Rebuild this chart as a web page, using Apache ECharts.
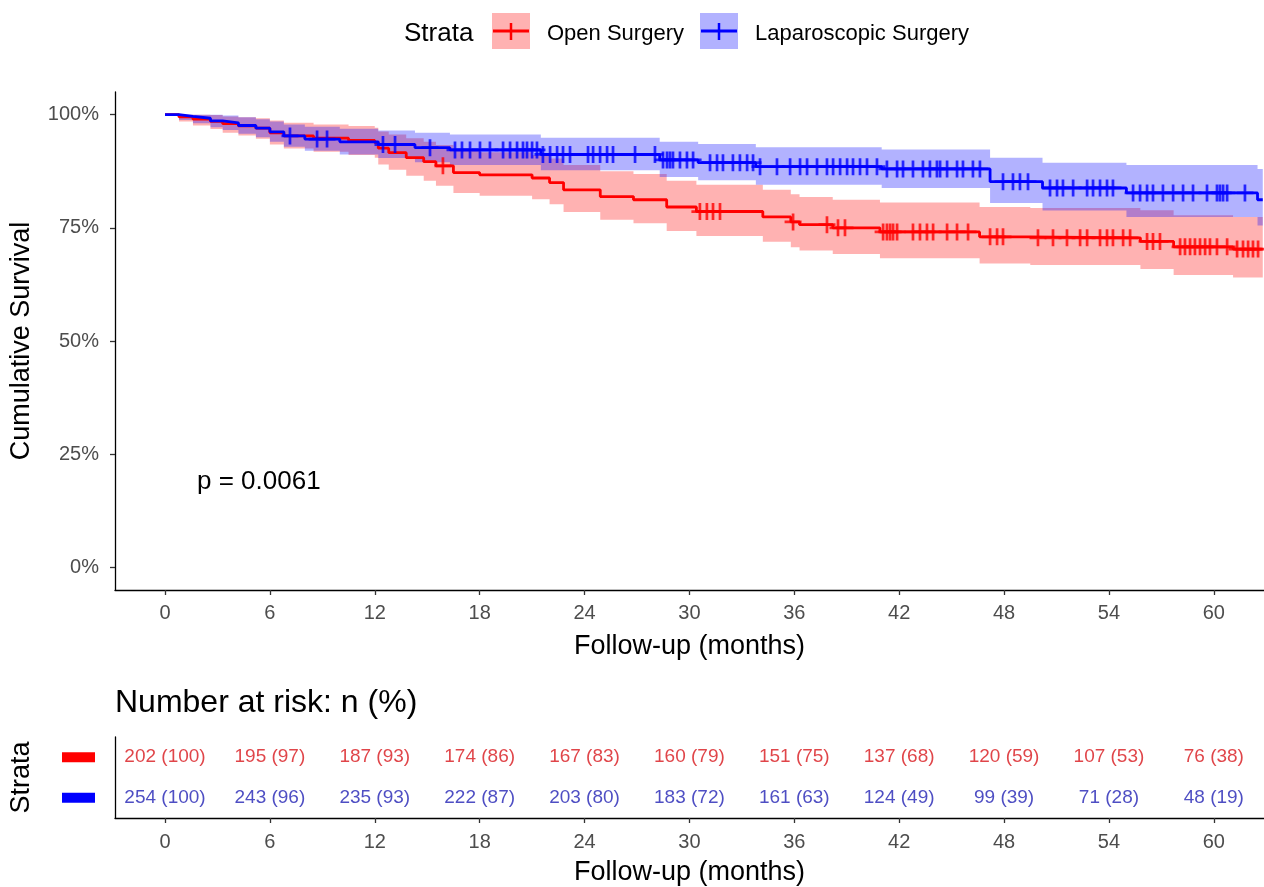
<!DOCTYPE html>
<html><head><meta charset="utf-8">
<script src="https://cdn.jsdelivr.net/npm/echarts@6/dist/echarts.min.js"></script>
<style>html,body{margin:0;padding:0;background:#fff}#c{width:1264px;height:887px}</style>
</head><body><div id="c"></div>
<script>
// ---------- data ----------
const xTicks = [0, 6, 12, 18, 24, 30, 36, 42, 48, 54, 60];
const yTicks = [0, 25, 50, 75, 100];
const groups = ['Open Surgery', 'Laparoscopic Surgery'];

const openTime  = [0, 0.8, 1.6, 2.6, 3.3, 4.2, 5.2, 6.0, 6.8, 8.5, 10.5, 12.0, 12.2, 12.8, 13.8, 14.8, 15.5, 16.5, 18.0, 21.0, 22.0, 22.8, 24.9, 26.8, 28.7, 30.4, 34.2, 35.8, 36.3, 38.2, 40.9, 46.6, 49.5, 55.8, 57.7, 61.1, 62.8];
const openSurv  = [100, 99.5, 99.0, 98.5, 98.0, 97.5, 97.0, 96.0, 95.3, 94.8, 94.3, 93.8, 92.6, 91.6, 90.5, 89.6, 88.7, 87.2, 86.7, 86.0, 85.0, 83.4, 81.9, 81.2, 79.6, 78.6, 77.4, 76.3, 75.7, 75.0, 74.1, 73.0, 72.8, 72.0, 70.8, 70.3, 70.3];
const openLower = [100, 98.5, 97.6, 96.8, 96.0, 95.4, 94.7, 93.4, 92.5, 91.8, 91.1, 90.5, 89.0, 87.8, 86.5, 85.4, 84.3, 82.7, 82.1, 81.3, 80.2, 78.5, 76.8, 76.0, 74.3, 73.2, 71.9, 70.7, 70.0, 69.2, 68.3, 67.1, 66.8, 65.9, 64.6, 64.0, 64.0];
const openUpper = [100, 100, 100, 99.9, 99.6, 99.4, 99.2, 98.7, 98.2, 97.8, 97.5, 97.1, 96.3, 95.6, 94.8, 94.0, 93.3, 92.1, 91.7, 91.1, 90.3, 88.9, 87.5, 86.9, 85.4, 84.5, 83.4, 82.4, 81.8, 81.2, 80.6, 79.6, 79.4, 78.9, 77.8, 77.4, 77.4];

const lapTime  = [0, 0.8, 1.6, 2.6, 3.3, 4.2, 5.2, 6.0, 6.8, 8.0, 10.0, 12.2, 14.3, 16.3, 21.5, 28.3, 30.5, 33.8, 41.0, 47.2, 50.2, 55.0, 62.5, 62.8];
const lapSurv  = [100, 99.6, 99.2, 98.6, 98.2, 97.6, 97.0, 96.2, 95.3, 94.6, 94.0, 93.4, 92.7, 92.2, 91.2, 90.0, 89.4, 88.5, 88.0, 85.2, 83.8, 82.7, 81.2, 81.2];
const lapLower = [100, 98.8, 98.1, 97.2, 96.6, 95.8, 95.0, 94.0, 92.9, 92.0, 91.2, 90.4, 89.5, 88.9, 87.7, 86.2, 85.5, 84.5, 83.8, 80.5, 78.8, 77.4, 75.5, 75.5];
const lapUpper = [100, 100, 100, 100, 99.8, 99.4, 99.0, 98.5, 97.8, 97.3, 96.9, 96.5, 96.0, 95.6, 94.9, 94.0, 93.5, 92.8, 92.3, 90.5, 89.4, 88.9, 88.0, 88.0];

const openCensor = [15.9, 30.6, 31.0, 31.35, 31.75, 35.93, 37.87, 38.5, 38.9, 41.08, 41.3, 41.48, 41.65, 41.88, 42.79, 43.19, 43.59, 43.94, 44.74, 45.31, 45.94, 47.2, 47.6, 47.94, 49.94, 50.8, 51.6, 52.35, 52.75, 53.49, 53.89, 54.23, 54.81, 55.21, 56.18, 56.52, 56.92, 58.07, 58.35, 58.64, 58.92, 59.21, 59.5, 59.78, 60.18, 60.76, 61.33, 61.67, 61.96, 62.24, 62.53];
const lapCensor = [7.15, 8.7, 9.27, 12.47, 13.16, 15.16, 16.59, 16.99, 17.45, 18.02, 18.59, 19.34, 19.74, 20.14, 20.48, 20.71, 21.0, 21.28, 21.62, 22.03, 22.43, 22.77, 23.17, 24.2, 24.49, 24.89, 25.29, 25.63, 26.89, 28.03, 28.49, 28.72, 28.89, 29.06, 29.46, 29.86, 30.21, 31.18, 31.58, 31.92, 32.49, 32.89, 33.3, 33.64, 34.04, 35.01, 35.76, 36.33, 36.73, 37.3, 37.87, 38.22, 38.62, 39.02, 39.36, 39.76, 40.16, 40.73, 41.3, 41.88, 42.22, 42.79, 43.36, 43.76, 44.16, 44.34, 44.74, 45.31, 45.65, 46.22, 46.62, 47.94, 48.51, 48.91, 49.37, 50.63, 51.03, 51.37, 51.95, 52.75, 53.09, 53.49, 53.89, 54.23, 55.38, 55.78, 56.18, 56.52, 57.09, 57.67, 58.24, 58.81, 59.61, 60.18, 60.35, 60.53, 60.76, 61.78];

const openN   = [202, 195, 187, 174, 167, 160, 151, 137, 120, 107, 76];
const openPct = [100, 97, 93, 86, 83, 79, 75, 68, 59, 53, 38];
const lapN    = [254, 243, 235, 222, 203, 183, 161, 124, 99, 71, 48];
const lapPct  = [100, 96, 93, 87, 80, 72, 63, 49, 39, 28, 19];

const pValueText = 'p = 0.0061';

// ---------- styles ----------
const FONT = '"Liberation Sans", Arial, sans-serif';
const RED = '#ff0000', BLUE = '#0000ff';
const RED_BAND = 'rgba(255,0,0,0.3)', BLUE_BAND = 'rgba(0,0,255,0.3)';
const X_MIN = -2.86, X_MAX = 62.87;
const PLUS = 'path://M0,8.4H8.4V0H11.6V8.4H20V11.6H11.6V20H8.4V11.6H0Z';

function stepAt(times, vals, t) {
  let v = vals[0];
  for (let i = 0; i < times.length; i++) if (times[i] <= t) v = vals[i];
  return v;
}
function bandSeries(times, lower, upper, color) {
  return {
    type: 'custom', xAxisIndex: 0, yAxisIndex: 0, z: 1, silent: true,
    data: [[times[0], upper[0]]],
    renderItem: function (params, api) {
      const up = [], lo = [];
      for (let i = 0; i < times.length; i++) {
        up.push(api.coord([times[i], upper[i]]));
        lo.push(api.coord([times[i], lower[i]]));
        if (i < times.length - 1) {
          up.push(api.coord([times[i + 1], upper[i]]));
          lo.push(api.coord([times[i + 1], lower[i]]));
        }
      }
      return { type: 'polygon', shape: { points: up.concat(lo.reverse()) }, style: { fill: color } };
    }
  };
}
function lineSeries(name, times, surv, color, z) {
  return {
    name: name, type: 'line', xAxisIndex: 0, yAxisIndex: 0, step: 'end', z: z,
    showSymbol: false, symbol: 'none', silent: true,
    data: times.map((t, i) => [t, surv[i]]),
    lineStyle: { color: color, width: 2.8 }
  };
}
function censorSeries(times, surv, censor, color, z) {
  return {
    type: 'scatter', xAxisIndex: 0, yAxisIndex: 0, z: z, silent: true,
    symbol: PLUS, symbolSize: 17,
    data: censor.map(t => [t, stepAt(times, surv, t)]),
    itemStyle: { color: color }
  };
}
function riskSeries(group, ns, pcts, color) {
  return {
    type: 'scatter', xAxisIndex: 1, yAxisIndex: 1, silent: true,
    symbolSize: 1, itemStyle: { color: 'transparent' },
    data: xTicks.map((t, i) => [t, group]),
    label: {
      show: true, position: 'inside', color: color, fontSize: 19, fontFamily: FONT,
      formatter: p => ns[p.dataIndex] + ' (' + pcts[p.dataIndex] + ')'
    }
  };
}

const axisLineStyle = { show: true, onZero: false, lineStyle: { color: '#000', width: 1.3 } };
const tickStyle = { show: true, length: 5, lineStyle: { color: '#333', width: 1.3 } };
const tickLabel = { color: '#4d4d4d', fontSize: 20, fontFamily: FONT };

const option = {
  animation: false,
  textStyle: { fontFamily: FONT },
  grid: [
    { left: 115, top: 92, width: 1149, height: 498 },
    { left: 115, top: 737, width: 1149, height: 83 }
  ],
  xAxis: [
    {
      type: 'value', gridIndex: 0, min: X_MIN, max: X_MAX,
      axisLine: axisLineStyle,
      axisTick: Object.assign({ customValues: xTicks }, tickStyle),
      axisLabel: Object.assign({ customValues: xTicks, margin: 13 }, tickLabel),
      splitLine: { show: false },
      name: 'Follow-up (months)', nameLocation: 'middle', nameGap: 43,
      nameTextStyle: { color: '#000', fontSize: 27, fontFamily: FONT }
    },
    {
      type: 'value', gridIndex: 1, min: X_MIN, max: X_MAX,
      axisLine: axisLineStyle,
      axisTick: Object.assign({ customValues: xTicks }, tickStyle),
      axisLabel: Object.assign({ customValues: xTicks, margin: 14 }, tickLabel),
      splitLine: { show: false },
      name: 'Follow-up (months)', nameLocation: 'middle', nameGap: 41,
      nameTextStyle: { color: '#000', fontSize: 27, fontFamily: FONT }
    }
  ],
  yAxis: [
    {
      type: 'value', gridIndex: 0, min: -5, max: 105,
      axisLine: axisLineStyle,
      axisTick: Object.assign({ customValues: yTicks }, tickStyle),
      axisLabel: Object.assign({ customValues: yTicks, margin: 16, formatter: '{value}%' }, tickLabel),
      splitLine: { show: false },
      name: 'Cumulative Survival', nameLocation: 'middle', nameGap: 80,
      nameTextStyle: { color: '#000', fontSize: 27, fontFamily: FONT }
    },
    {
      type: 'category', gridIndex: 1, data: groups, inverse: true,
      axisLine: axisLineStyle, axisTick: { show: false },
      axisLabel: {
        margin: 20,
        formatter: v => v === groups[0] ? '{r|}' : '{b|}',
        rich: {
          r: { backgroundColor: RED, width: 33, height: 10 },
          b: { backgroundColor: BLUE, width: 33, height: 10 }
        }
      },
      name: 'Strata', nameLocation: 'middle', nameGap: 80,
      nameTextStyle: { color: '#000', fontSize: 27, fontFamily: FONT }
    }
  ],
  series: [
    bandSeries(openTime, openLower, openUpper, RED_BAND),
    bandSeries(lapTime, lapLower, lapUpper, BLUE_BAND),
    lineSeries(groups[0], openTime, openSurv, RED, 3),
    lineSeries(groups[1], lapTime, lapSurv, BLUE, 4),
    censorSeries(openTime, openSurv, openCensor, RED, 5),
    censorSeries(lapTime, lapSurv, lapCensor, BLUE, 6),
    riskSeries(groups[0], openN, openPct, '#d8161c'),
    riskSeries(groups[1], lapN, lapPct, '#2222b4')
  ],
  graphic: [
    { type: 'text', left: 404, top: 21, style: { text: 'Strata', fill: '#000', font: '26px ' + FONT } },
    { type: 'rect', shape: { x: 492, y: 13, width: 38, height: 36 }, style: { fill: RED_BAND } },
    { type: 'line', shape: { x1: 493, y1: 31, x2: 529, y2: 31 }, style: { stroke: RED, lineWidth: 3 } },
    { type: 'line', shape: { x1: 511, y1: 23, x2: 511, y2: 40 }, style: { stroke: RED, lineWidth: 2.5 } },
    { type: 'text', left: 547, top: 23, style: { text: groups[0], fill: '#000', font: '22px ' + FONT } },
    { type: 'rect', shape: { x: 700, y: 13, width: 38, height: 36 }, style: { fill: BLUE_BAND } },
    { type: 'line', shape: { x1: 701, y1: 31, x2: 737, y2: 31 }, style: { stroke: BLUE, lineWidth: 3 } },
    { type: 'line', shape: { x1: 719, y1: 23, x2: 719, y2: 40 }, style: { stroke: BLUE, lineWidth: 2.5 } },
    { type: 'text', left: 755, top: 23, style: { text: groups[1], fill: '#000', font: '22px ' + FONT } },
    { type: 'text', left: 197, top: 469, style: { text: pValueText, fill: '#000', font: '26px ' + FONT } },
    { type: 'text', left: 115, top: 687, style: { text: 'Number at risk: n (%)', fill: '#000', font: '32px ' + FONT } }
  ]
};

const chart = echarts.init(document.getElementById('c'), null, { renderer: 'canvas' });
chart.setOption(option);
</script>
</body></html>
